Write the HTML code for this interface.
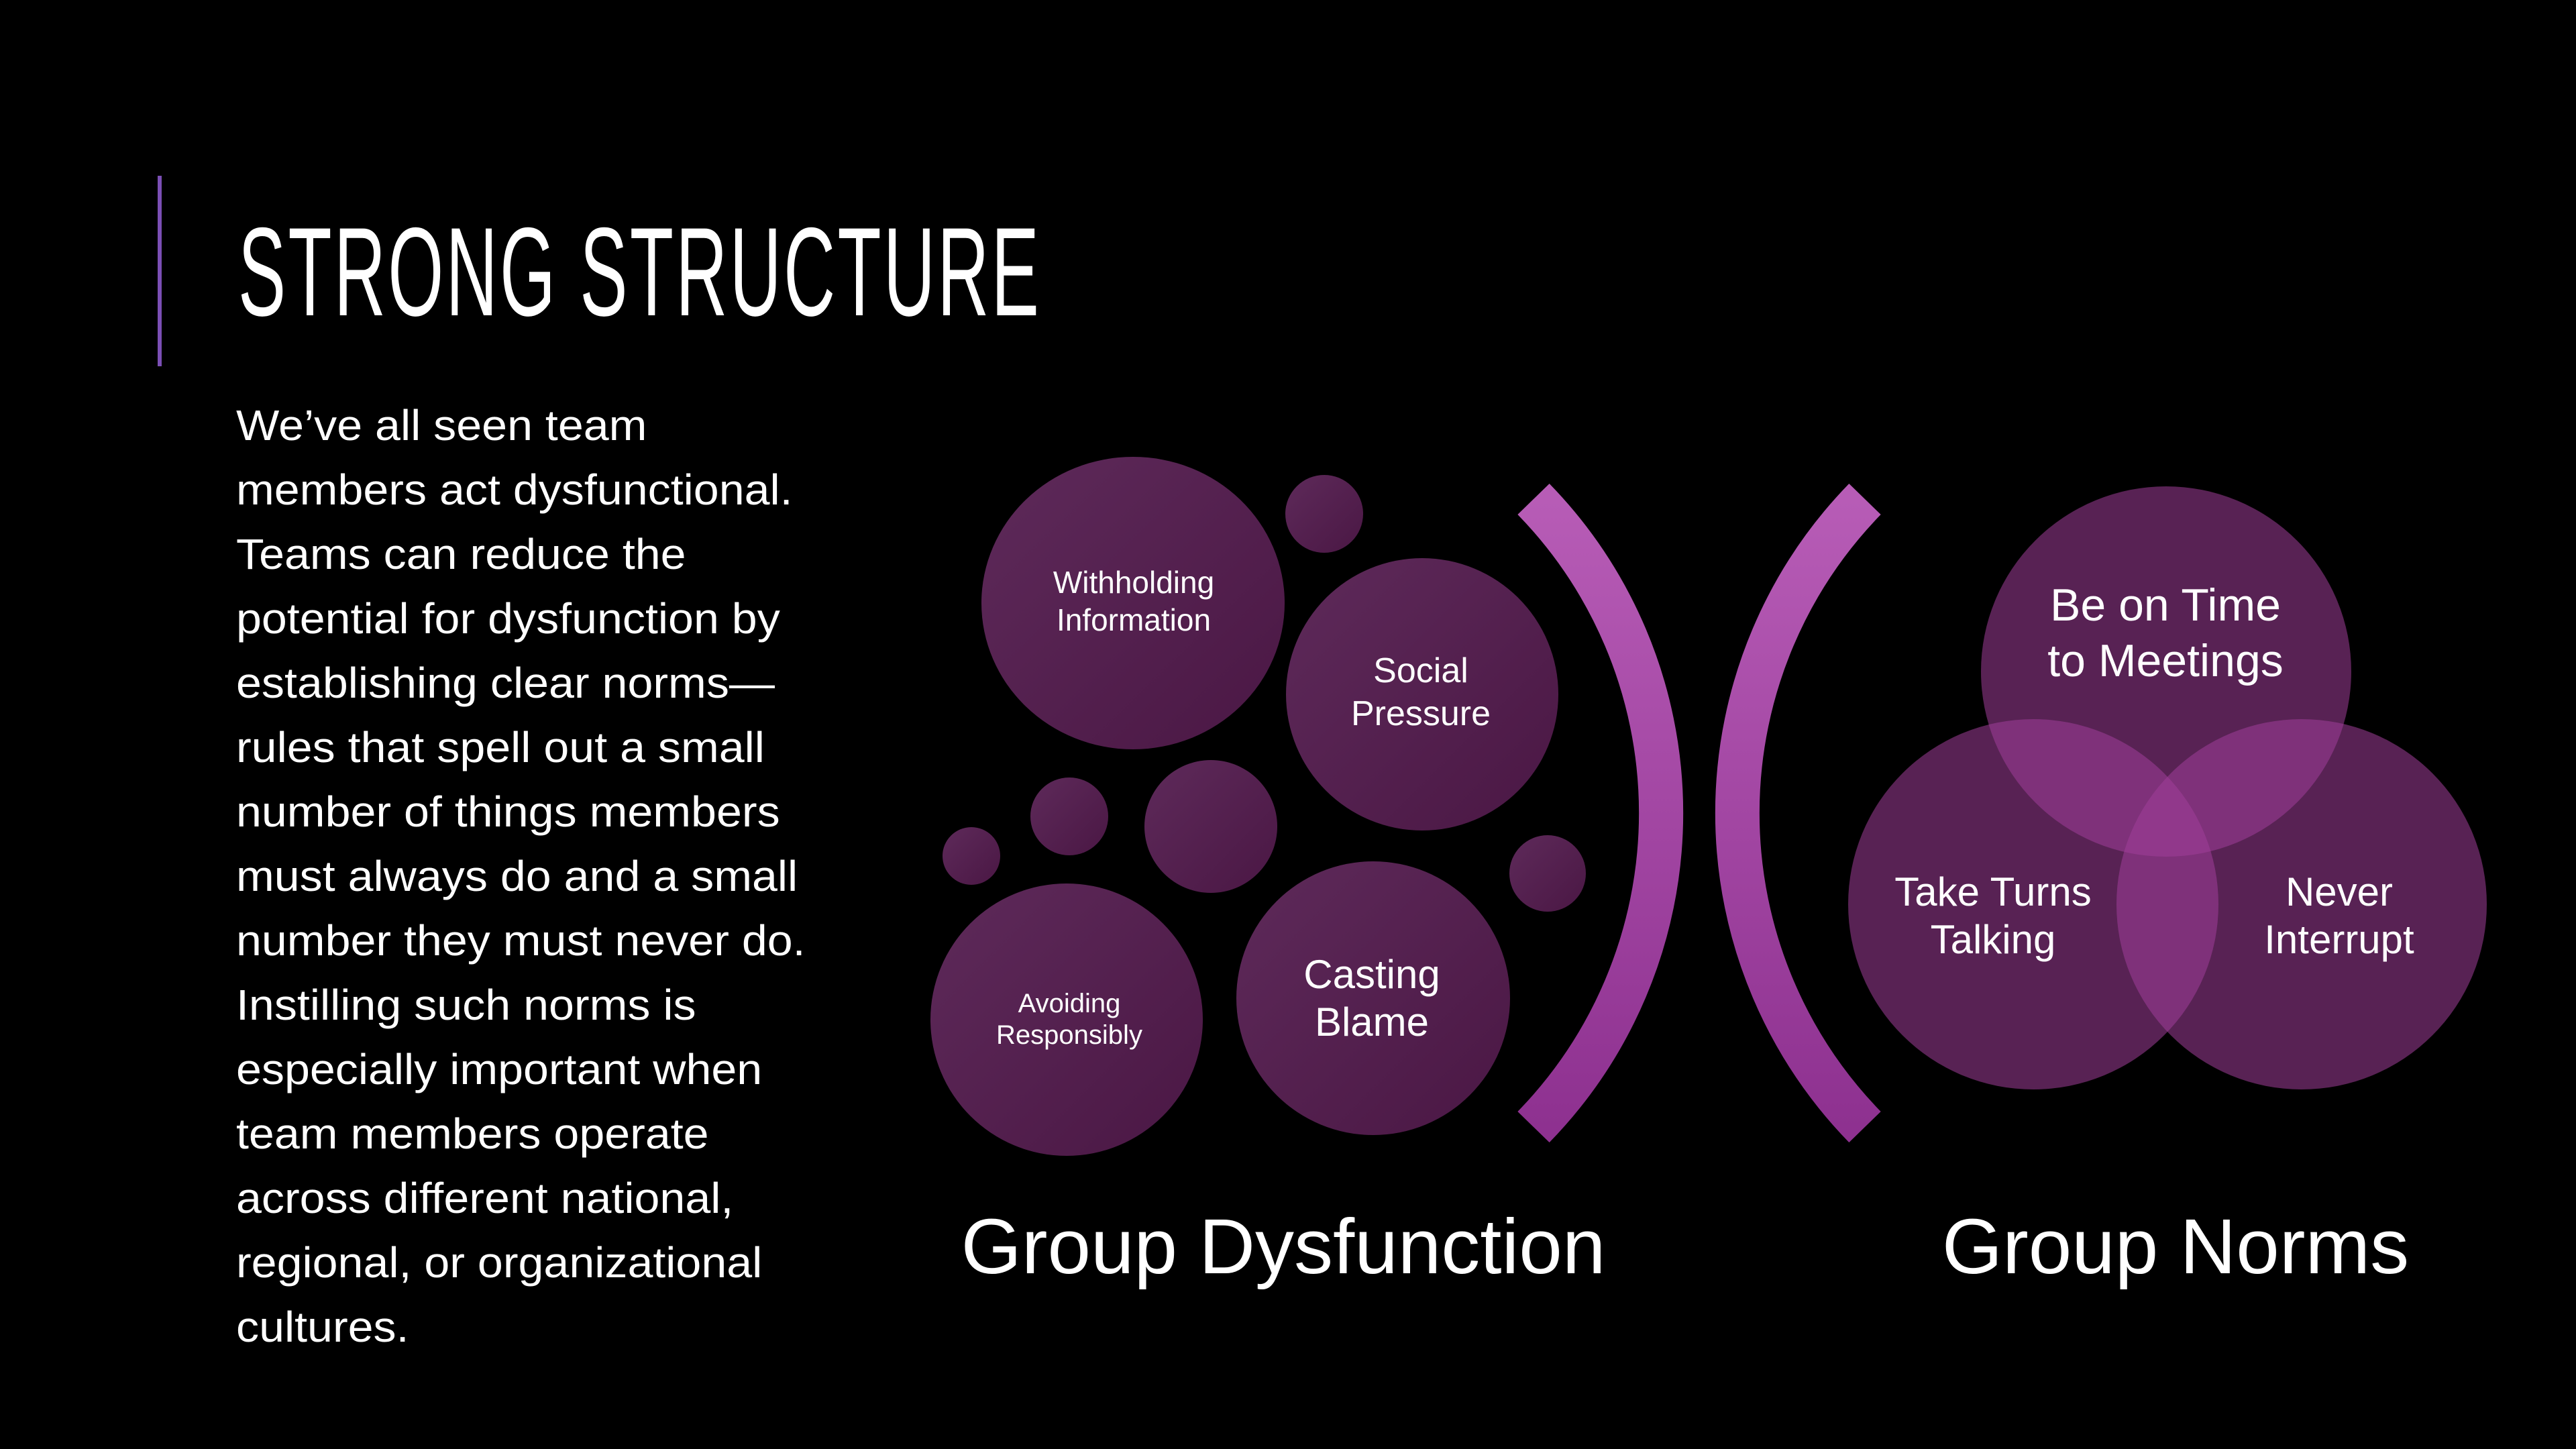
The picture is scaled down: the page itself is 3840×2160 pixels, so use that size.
<!DOCTYPE html>
<html><head><meta charset="utf-8"><style>
html,body{margin:0;padding:0;background:#000;}
svg{display:block}
</style></head><body>
<svg width="3840" height="2160" viewBox="0 0 3840 2160" xmlns="http://www.w3.org/2000/svg">
<defs>
<linearGradient id="cg" x1="0" y1="0" x2="1" y2="1">
<stop offset="0" stop-color="#5e2a5a"/><stop offset="1" stop-color="#4a1744"/>
</linearGradient>
<linearGradient id="bg" x1="0" y1="0" x2="0" y2="1">
<stop offset="0" stop-color="#b75cb6"/><stop offset="1" stop-color="#8e3190"/>
</linearGradient>
</defs>
<rect width="3840" height="2160" fill="#000"/>
<rect x="235" y="262" width="6" height="284" fill="#7b4fb5"/>
<text x="355" y="470" font-family="Liberation Sans, sans-serif" font-size="188" fill="#fff" transform="translate(355 0) scale(0.567 1) translate(-355 0)" letter-spacing="6">STRONG STRUCTURE</text>
<g font-family="Liberation Sans, sans-serif" font-size="64" fill="#fff" transform="translate(352 0) scale(1.065 1) translate(-352 0)">
<text x="352" y="656">We’ve all seen team</text>
<text x="352" y="752">members act dysfunctional.</text>
<text x="352" y="848">Teams can reduce the</text>
<text x="352" y="944">potential for dysfunction by</text>
<text x="352" y="1040">establishing clear norms—</text>
<text x="352" y="1136">rules that spell out a small</text>
<text x="352" y="1232">number of things members</text>
<text x="352" y="1328">must always do and a small</text>
<text x="352" y="1424">number they must never do.</text>
<text x="352" y="1520">Instilling such norms is</text>
<text x="352" y="1616">especially important when</text>
<text x="352" y="1712">team members operate</text>
<text x="352" y="1808">across different national,</text>
<text x="352" y="1904">regional, or organizational</text>
<text x="352" y="2000">cultures.</text>
</g>
<g fill="url(#cg)">
<ellipse cx="1689" cy="899" rx="226" ry="218"/>
<circle cx="1974" cy="766" r="58"/>
<circle cx="2120" cy="1035" r="203"/>
<circle cx="1805" cy="1232" r="99"/>
<circle cx="1594" cy="1217" r="58"/>
<circle cx="1448" cy="1276" r="43"/>
<circle cx="1590" cy="1520" r="203"/>
<circle cx="2047" cy="1488" r="204"/>
<circle cx="2307" cy="1302" r="57"/>
</g>
<path d="M2286 744 A671 671 0 0 1 2286 1680" fill="none" stroke="url(#bg)" stroke-width="66"/>
<path d="M2780 744 A671 671 0 0 0 2780 1680" fill="none" stroke="url(#bg)" stroke-width="66"/>
<g fill="rgb(160,62,153)" fill-opacity="0.55">
<circle cx="3229" cy="1001" r="276"/>
<circle cx="3031" cy="1348" r="276"/>
<circle cx="3431" cy="1348" r="276"/>
</g>
<g font-family="Liberation Sans, sans-serif" fill="#fff" text-anchor="middle">
<text x="1690" y="884" font-size="46">Withholding</text>
<text x="1690" y="940" font-size="46">Information</text>
<text x="2118" y="1017" font-size="52">Social</text>
<text x="2118" y="1081" font-size="52">Pressure</text>
<text x="2045" y="1473" font-size="60">Casting</text>
<text x="2045" y="1544" font-size="60">Blame</text>
<text x="1594" y="1509" font-size="40">Avoiding</text>
<text x="1594" y="1556" font-size="40">Responsibly</text>
<text x="3228" y="925" font-size="68">Be on Time</text>
<text x="3228" y="1008" font-size="68">to Meetings</text>
<text x="2971" y="1350" font-size="60">Take Turns</text>
<text x="2971" y="1421" font-size="60">Talking</text>
<text x="3487" y="1350" font-size="60">Never</text>
<text x="3487" y="1421" font-size="60">Interrupt</text>
<text x="1913" y="1898" font-size="116">Group Dysfunction</text>
<text x="3243" y="1898" font-size="116">Group Norms</text>
</g>
</svg>
</body></html>
